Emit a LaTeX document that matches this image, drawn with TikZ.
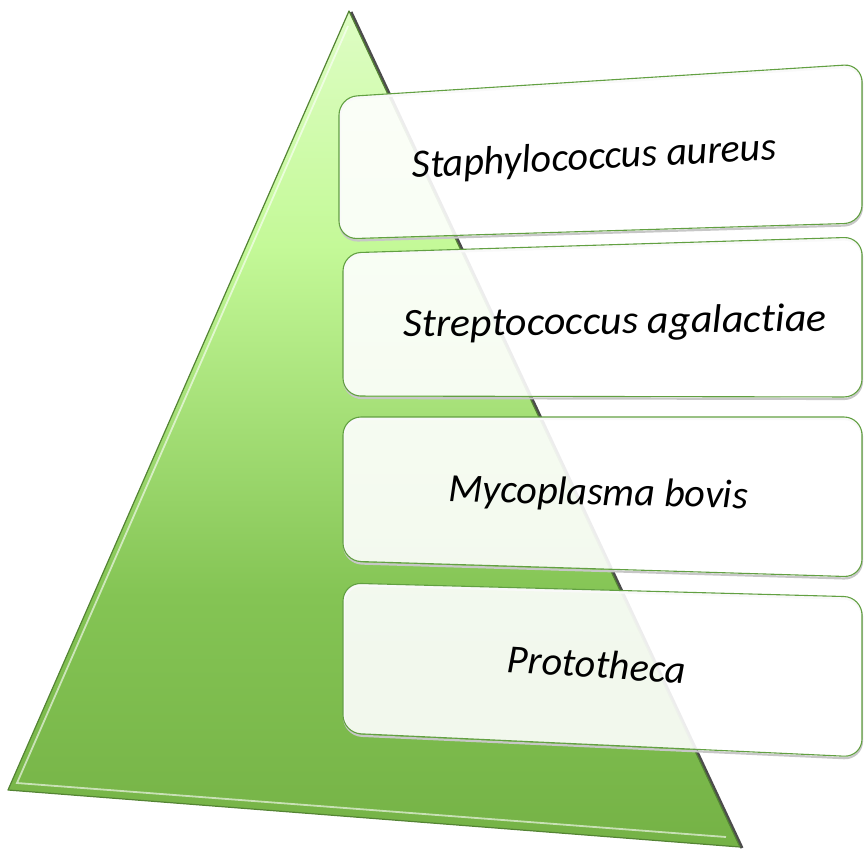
\documentclass[tikz,border=0pt]{standalone}
\usepackage{fontspec}
\setmainfont{Carlito}[Ligatures=NoCommon]
\usetikzlibrary{positioning}
\definecolor{triTop}{RGB}{222,253,196}
\definecolor{triUp}{RGB}{196,249,152}
\definecolor{triLow}{RGB}{132,196,84}
\definecolor{triBot}{RGB}{117,178,70}
\definecolor{triEdge}{RGB}{84,132,52}
\definecolor{cardEdge}{RGB}{98,160,66}
\pgfdeclareverticalshading{pyramid}{100bp}{color(0bp)=(triBot); color(25bp)=(triBot);
  color(40bp)=(triLow); color(61bp)=(triUp); color(75bp)=(triTop); color(100bp)=(triTop)}

\begin{document}
\begin{tikzpicture}[x=1pt,y=-1pt,
  card/.style={draw=cardEdge,line width=1.1pt,fill=white,fill opacity=0.9,rounded corners=18pt},
  cardshade/.style={draw=black!22,line width=2.2pt,rounded corners=18pt},
  lbl/.style={font=\fontsize{40}{44}\selectfont\itshape,anchor=base,inner sep=0pt}]
  \useasboundingbox (0,0) rectangle (865,852);
  % pyramid
  \coordinate (apex) at (349,11);
  \coordinate (bl) at (8,790);
  \coordinate (br) at (740,847);
  \shade[shading=pyramid] (apex) -- (br) -- (bl) -- cycle;
  \draw[black!70,line width=3pt] (351,12) -- (742,848);
  \draw[triEdge,line width=1.2pt,line join=round] (apex) -- (br) -- (bl) -- cycle;
  \draw[white,opacity=.6,line width=1.8pt] (348,26) -- (17,783) -- (726,837);
  % cards
  \foreach \k/\tl/\tr/\br/\bl/\xl in {1/97/64/223/239/339,2/253/237/397/396/343,
      3/417/417/577/561/343,4/583/597/757/733/343} {
    \draw[cardshade] (\xl+1,\tl+2) -- (862,\tr+2) -- (862,\br+2) -- (\xl+1,\bl+2) -- cycle;
    \draw[card] (\xl,\tl) -- (862,\tr) -- (862,\br) -- (\xl,\bl) -- cycle;}
  % labels
  \node[lbl,rotate=2.8] (staph) at (595,169) {Staphylococcus aureus};
  \node[lbl,rotate=0.8,xscale=1.05] (strep) at (615,334) {Streptococcus agalactiae};
  \node[lbl,rotate=-1.3] (myco) at (598,505) {Mycoplasma bovis};
  \node[lbl,rotate=-3.5] (proto) at (596,678) {Prototheca};
\end{tikzpicture}
\end{document}
